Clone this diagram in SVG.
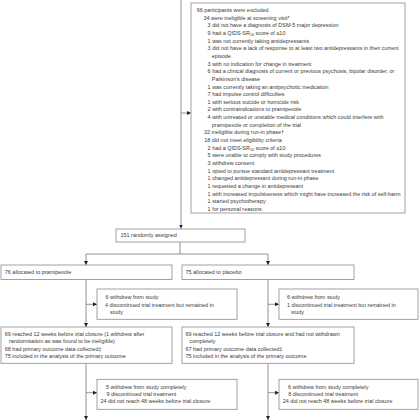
<svg xmlns="http://www.w3.org/2000/svg" width="420" height="420" viewBox="0 0 420 420">
<style>
text{font-family:"Liberation Sans",Arial,sans-serif;font-size:5.45px;fill:#3a3a3a}
.box{fill:#fff;stroke:#8a8a8a;stroke-width:0.8}
.ln{fill:none;stroke:#777;stroke-width:0.8}
.sub{font-size:3.7px}
</style>
<defs>
<marker id="ah" markerUnits="userSpaceOnUse" markerWidth="4" markerHeight="4" refX="4" refY="2" orient="auto">
<path d="M0,0 L4,2 L0,4 z" fill="#222"/>
</marker>
</defs>
<rect width="420" height="420" fill="#fff"/>
<g id="connectors">
<path class="ln" d="M181,0 V228.5" marker-end="url(#ah)"/>
<path class="ln" d="M181,113 H191" marker-end="url(#ah)"/>
<path class="ln" d="M180,242 V254 M86,254 H268"/>
<path class="ln" d="M86,254 V265" marker-end="url(#ah)"/>
<path class="ln" d="M268,254 V265" marker-end="url(#ah)"/>
<path class="ln" d="M86,279.5 V327" marker-end="url(#ah)"/>
<path class="ln" d="M268,279.5 V327" marker-end="url(#ah)"/>
<path class="ln" d="M86,304.3 H97" marker-end="url(#ah)"/>
<path class="ln" d="M268,304.3 H279" marker-end="url(#ah)"/>
<path class="ln" d="M86,363.3 V420" marker-end="url(#ah)"/>
<path class="ln" d="M268,363.3 V420" marker-end="url(#ah)"/>
<path class="ln" d="M86,392.7 H97" marker-end="url(#ah)"/>
<path class="ln" d="M268,392.7 H279" marker-end="url(#ah)"/>
</g>
<g id="excluded">
<rect class="box" x="191" y="3" width="214" height="210"/>
<text x="196.7" y="12">66 participants were excluded</text>
<text x="203.5" y="19.65">34 were ineligible at screening visit*</text>
<text x="207.6" y="27.3">3 did not have a diagnosis of DSM-5 major depression</text>
<text x="207.6" y="34.95">9 had a QIDS-SR<tspan class="sub" dy="1">16</tspan><tspan dy="-1"> score of ≤10</tspan></text>
<text x="207.6" y="42.6">1 was not currently taking antidepressants</text>
<text x="207.6" y="50.25">3 did not have a lack of response to at least two antidepressants in their current</text>
<text x="211.8" y="57.9">episode</text>
<text x="207.6" y="65.55">3 with no indication for change in treatment</text>
<text x="207.6" y="73.2">6 had a clinical diagnosis of current or previous psychosis, bipolar disorder, or</text>
<text x="211.8" y="80.85">Parkinson’s disease</text>
<text x="207.6" y="88.5">1 was currently taking an antipsychotic medication</text>
<text x="207.6" y="96.15">7 had impulse control difficulties</text>
<text x="207.6" y="103.8">1 with serious suicide or homicide risk</text>
<text x="207.6" y="111.45">2 with contraindications to pramipexole</text>
<text x="207.6" y="119.1">4 with untreated or unstable medical conditions which could interfere with</text>
<text x="211.8" y="126.75">pramipexole or completion of the trial</text>
<text x="204" y="134.4">32 ineligible during run-in phase†</text>
<text x="204.3" y="142.05">18 did not meet eligibility criteria</text>
<text x="207.6" y="149.7">2 had a QIDS-SR<tspan class="sub" dy="1">16</tspan><tspan dy="-1"> score of ≤10</tspan></text>
<text x="207.6" y="157.35">5 were unable to comply with study procedures</text>
<text x="207.6" y="165">3 withdrew consent</text>
<text x="207.6" y="172.65">1 opted to pursue standard antidepressant treatment</text>
<text x="207.6" y="180.3">1 changed antidepressant during run-in phase</text>
<text x="207.6" y="187.95">1 requested a change in antidepressant</text>
<text x="207.6" y="195.6">1 with increased impulsiveness which might have increased the risk of self-harm</text>
<text x="207.6" y="203.25">1 started psychotherapy</text>
<text x="207.6" y="210.9">1 for personal reasons</text>
</g>
<g id="randomised">
<rect class="box" x="116" y="229" width="129" height="13"/>
<text x="120.5" y="237.3">151 randomly assigned</text>
</g>
<g id="alloc-pramipexole">
<rect class="box" x="1" y="265" width="171" height="14.5"/>
<text x="4.8" y="274.3">76 allocated to pramipexole</text>
</g>
<g id="alloc-placebo">
<rect class="box" x="182" y="265" width="172" height="14.5"/>
<text x="185.5" y="274.3">75 allocated to placebo</text>
</g>
<g id="withdrew-pramipexole-1">
<rect class="box" x="97" y="289" width="140" height="30.3"/>
<text x="105.5" y="299.3">6 withdrew from study</text>
<text x="105" y="307">4 discontinued trial treatment but remained in</text>
<text x="110" y="314.3">study</text>
</g>
<g id="withdrew-placebo-1">
<rect class="box" x="279" y="289" width="139" height="30.3"/>
<text x="287" y="299.3">6 withdrew from study</text>
<text x="287" y="307">1 discontinued trial treatment but remained in</text>
<text x="291" y="314.3">study</text>
</g>
<g id="week12-pramipexole">
<rect class="box" x="1" y="327" width="171" height="36.3"/>
<text x="4.8" y="336">69 reached 12 weeks before trial closure (1 withdrew after</text>
<text x="9" y="343.3">randomisation as was found to be ineligible)</text>
<text x="4.8" y="350.6">68 had primary outcome data collected‡</text>
<text x="4.8" y="357.9">75 included in the analysis of the primary outcome</text>
</g>
<g id="week12-placebo">
<rect class="box" x="182" y="327" width="172" height="36.3"/>
<text x="185.5" y="336">69 reached 12 weeks before trial closure and had not withdrawn</text>
<text x="189.5" y="343.3">completely</text>
<text x="185.5" y="350.6">67 had primary outcome data collected‡</text>
<text x="185.5" y="357.9">75 included in the analysis of the primary outcome</text>
</g>
<g id="withdrew-pramipexole-2">
<rect class="box" x="97" y="379.3" width="140" height="30"/>
<text x="106" y="388.7">5 withdrew from study completely</text>
<text x="106.5" y="396">9 discontinued trial treatment</text>
<text x="100.5" y="403.3">24 did not reach 48 weeks before trial closure</text>
</g>
<g id="withdrew-placebo-2">
<rect class="box" x="279" y="379.3" width="139" height="30"/>
<text x="288" y="388.7">6 withdrew from study completely</text>
<text x="288.3" y="396">8 discontinued trial treatment</text>
<text x="282.7" y="403.3">24 did not reach 48 weeks before trial closure</text>
</g>
</svg>
